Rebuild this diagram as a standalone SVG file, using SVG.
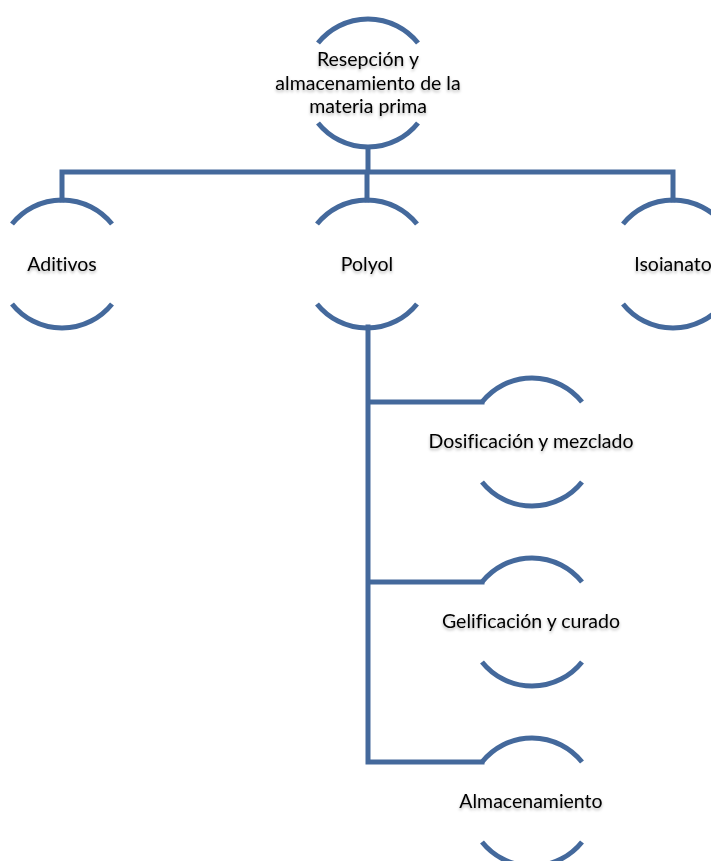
<svg xmlns="http://www.w3.org/2000/svg" width="711" height="861" viewBox="0 0 711 861">
<defs>
<filter id="sh" x="-10%" y="-30%" width="120%" height="180%">
<feDropShadow dx="0" dy="2" stdDeviation="1.8" flood-color="#000" flood-opacity="0.3"/>
</filter>
</defs>
<style>
.arc{fill:none;stroke:#44699c;stroke-width:5}
.ln{fill:none;stroke:#44699c;stroke-width:5;stroke-linejoin:miter;stroke-linecap:square}
.t{font-family:Lato,"Liberation Sans",Arial,sans-serif;font-size:19.5px;fill:#000;text-anchor:middle;filter:url(#sh);font-variant-ligatures:none}
</style>
<rect width="711" height="861" fill="#fff"/>
<g id="connectors">
<path class="ln" d="M368,148 V172 M62,200 V172 H673 V200 M367,172 V200"/>
<path class="ln" d="M368,327 V762 H482 M368,402 H482 M368,582 H482"/>
</g>
<g id="n-top">
<path class="arc" d="M318,43 A64,64 0 0 1 418,43 M318,123 A64,64 0 0 0 418,123"/>
<text class="t" x="368" y="66">Resepción y</text>
<text class="t" x="368" y="90">almacenamiento de la</text>
<text class="t" x="368" y="113">materia prima</text>
</g>
<g id="n-aditivos">
<path class="arc" d="M12,224 A64,64 0 0 1 112,224 M12,304 A64,64 0 0 0 112,304"/>
<text class="t" x="62" y="271">Aditivos</text>
</g>
<g id="n-polyol">
<path class="arc" d="M317,224 A64,64 0 0 1 417,224 M317,304 A64,64 0 0 0 417,304"/>
<text class="t" x="367" y="271">Polyol</text>
</g>
<g id="n-isoianato">
<path class="arc" d="M623,224 A64,64 0 0 1 723,224 M623,304 A64,64 0 0 0 723,304"/>
<text class="t" x="673" y="271">Isoianato</text>
</g>
<g id="n-dosificacion">
<path class="arc" d="M482,402 A64,64 0 0 1 582,402 M482,482 A64,64 0 0 0 582,482"/>
<text class="t" x="531" y="448">Dosificación y mezclado</text>
</g>
<g id="n-gelificacion">
<path class="arc" d="M482,582 A64,64 0 0 1 582,582 M482,662 A64,64 0 0 0 582,662"/>
<text class="t" x="531" y="628">Gelificación y curado</text>
</g>
<g id="n-almacenamiento">
<path class="arc" d="M482,762 A64,64 0 0 1 582,762 M482,842 A64,64 0 0 0 582,842"/>
<text class="t" x="531" y="808">Almacenamiento</text>
</g>
</svg>
